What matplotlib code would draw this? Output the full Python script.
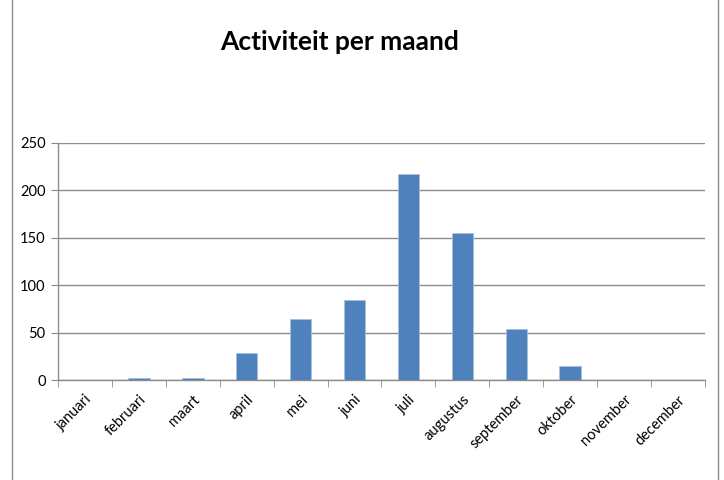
import matplotlib
matplotlib.use("Agg")
import matplotlib.pyplot as plt
from matplotlib.lines import Line2D
import numpy as np

months = ["januari", "februari", "maart", "april", "mei", "juni", "juli",
          "augustus", "september", "oktober", "november", "december"]
values = [0.4, 2, 2, 28, 64, 84, 217, 155, 53.5, 15, 0.4, 0]
yticks = [0, 50, 100, 150, 200, 250]
title = "Activiteit per maand"

plt.rcParams['font.family'] = ['Lato', 'DejaVu Sans']

fig = plt.figure(figsize=(7.24, 4.8), dpi=100)
ax = fig.add_axes([58/724, 100/480, (705-58)/724, (380-143)/480])

x = np.arange(len(months))
ax.bar(x, values, width=0.4, color="#4F81BD", edgecolor="#A7C0DE", linewidth=0.6, zorder=3)

ax.set_xlim(-0.5, len(months) - 0.5)
ax.set_ylim(0, 250)
ax.set_yticks(yticks)
ax.set_yticklabels([str(v) for v in yticks], fontsize=10.5)
ax.yaxis.grid(True, color="#8C8C8C", linewidth=1, zorder=0)
ax.set_axisbelow(True)

ax.set_xticks(x)
ax.set_xticklabels(months, rotation=45, ha="right", rotation_mode="anchor", fontsize=10.5)
ax.tick_params(axis="x", which="major", length=0, pad=9)
ax.set_xticks(np.arange(-0.5, len(months), 1), minor=True)
ax.tick_params(axis="x", which="minor", length=5, color="#8C8C8C", direction="out")
ax.tick_params(axis="y", length=5, color="#8C8C8C", direction="out", pad=4)

for s in ["top", "right"]:
    ax.spines[s].set_visible(False)
for s in ["left", "bottom"]:
    ax.spines[s].set_color("#8C8C8C")
    ax.spines[s].set_linewidth(1)

fig.text(340/724, 1 - 42/480, title, ha="center", va="center", fontsize=19, fontweight="bold")

fig.add_artist(Line2D([12/724, 12/724], [0, 1], transform=fig.transFigure, color="#8C8C8C", linewidth=1))
fig.add_artist(Line2D([718/724, 718/724], [0, 1], transform=fig.transFigure, color="#8C8C8C", linewidth=1))

fig.savefig("out.png", dpi=100)
